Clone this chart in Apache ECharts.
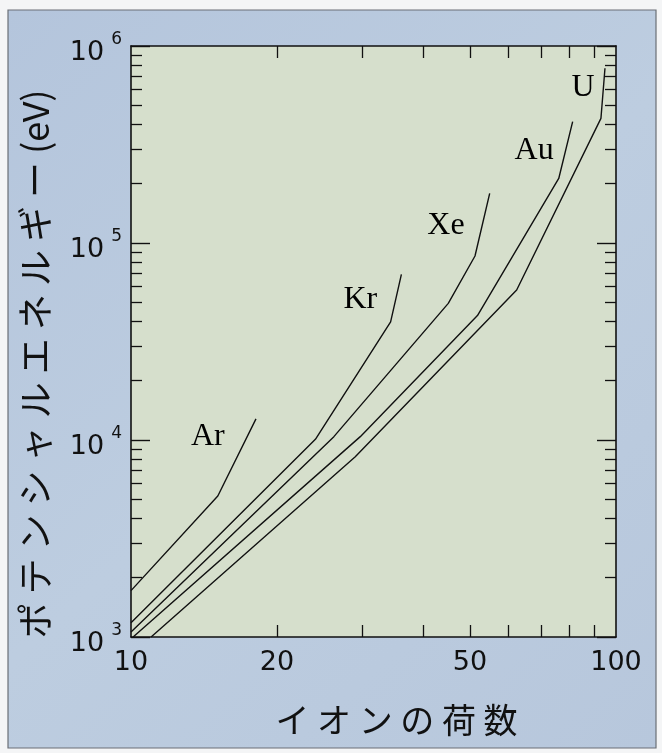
<!DOCTYPE html>
<html><head><meta charset="utf-8">
<script src="https://cdn.jsdelivr.net/npm/echarts@6/dist/echarts.min.js"></script>
<style>html,body{margin:0;padding:0;background:#f4f5f6}#c{width:662px;height:753px}</style>
</head><body><div id="c"></div>
<script>
// ---- data (charge number, potential energy in eV) ----
const elements = ['Ar', 'Kr', 'Xe', 'Au', 'U'];
const arData = [[10, 1720], [15.1, 5200], [18.1, 12800]];
const krData = [[10, 1180], [24.0, 10080], [34.3, 39800], [36.1, 69300]];
const xeData = [[10, 1060], [26.2, 10400], [45.1, 49400], [51.2, 85900], [54.9, 178600]];
const auData = [[10.1, 1000], [29.7, 10400], [51.8, 42800], [76.2, 212600], [81.4, 413000]];
const uData = [[11.0, 1000], [29.0, 8220], [62.4, 57700], [93.1, 429000], [94.9, 771000]];
const labelPos = [[14.4, 10400], [29.7, 51400], [44.6, 122000], [67.8, 293000], [85.5, 612000]];

// ---- ticks ----
const xLabelValues = [10, 20, 50, 100];
const xTickValues = [20, 30, 40, 50, 60, 70, 80, 90];
const yMajorValues = [1000, 10000, 100000, 1000000];
const yMinorValues = [2000, 3000, 4000, 5000, 6000, 7000, 8000, 9000,
  20000, 30000, 40000, 50000, 60000, 70000, 80000, 90000,
  200000, 300000, 400000, 500000, 600000, 700000, 800000, 900000];

const xTitle = 'イ オ ン の 荷 数';
const yTitle = 'ポ テ ン シ ャ ル エ ネ ル ギ ー (eV)';

const seriesData = [arData, krData, xeData, auData, uData];

const ink = '#111111';
const numFont = 'DejaVu Sans';
const jpFont = 'Noto Sans CJK JP';

function expLabel(v) {
  const e = Math.round(Math.log10(v));
  return '{b|10}{s|' + e + '}';
}

const baseX = {
  type: 'log', logBase: 10, min: 10, max: 100, gridIndex: 0,
  splitLine: { show: false }, minorTick: { show: false }
};
const baseY = {
  type: 'log', logBase: 10, min: 1000, max: 1000000, gridIndex: 0,
  splitLine: { show: false }, minorTick: { show: false }
};

const option = {
  animation: false,
  grid: { left: 131, right: 46, top: 46, bottom: 116, show: true, backgroundColor: '#d6dfcc', borderWidth: 0 },
  graphic: [
    { type: 'rect', z: -100, shape: { x: 8, y: 10, width: 648, height: 738 },
      style: { fill: new echarts.graphic.LinearGradient(0, 0, 1, 1, [
        { offset: 0, color: '#b4c5dc' }, { offset: 0.5, color: '#bdcde0' }, { offset: 1, color: '#b7c7dc' }]),
        stroke: '#6a6f76', lineWidth: 1.2 } },
    { type: 'text', x: 35, y: 364, rotation: Math.PI / 2,
      style: { text: yTitle, font: '36px "' + jpFont + '"', fill: ink, align: 'center', verticalAlign: 'middle' } }
  ],
  xAxis: [
    Object.assign({}, baseX, {
      position: 'bottom',
      axisLine: { show: true, lineStyle: { color: ink, width: 1.6 } },
      axisTick: { show: true, inside: true, length: 12, customValues: xTickValues, lineStyle: { color: ink, width: 1.3 } },
      axisLabel: { show: true, customValues: xLabelValues, margin: 12, fontSize: 27, fontFamily: numFont, color: ink,
        formatter: function (v) { return String(Math.round(v)); } },
      name: xTitle, nameLocation: 'middle', nameGap: 66,
      nameTextStyle: { fontSize: 34, fontFamily: jpFont, color: ink, padding: [0, 0, 0, 46] }
    }),
    Object.assign({}, baseX, {
      position: 'top',
      axisLine: { show: true, lineStyle: { color: ink, width: 1.6 } },
      axisTick: { show: true, inside: true, length: 12, customValues: xTickValues, lineStyle: { color: ink, width: 1.3 } },
      axisLabel: { show: false }
    })
  ],
  yAxis: [
    Object.assign({}, baseY, {
      position: 'left',
      axisLine: { show: true, lineStyle: { color: ink, width: 1.6 } },
      axisTick: { show: true, inside: true, length: 19, customValues: yMajorValues, lineStyle: { color: ink, width: 1.4 } },
      axisLabel: { show: true, customValues: yMajorValues, margin: 9, color: ink, formatter: expLabel, padding: [6, 0, 0, 0],
        rich: {
          b: { fontSize: 27, fontFamily: numFont, color: ink, lineHeight: 30, verticalAlign: 'bottom' },
          s: { fontSize: 17, fontFamily: numFont, color: ink, padding: [0, 0, 18, 7], verticalAlign: 'bottom' }
        } }
    }),
    Object.assign({}, baseY, {
      position: 'left',
      axisLine: { show: false },
      axisTick: { show: true, inside: true, length: 11, customValues: yMinorValues, lineStyle: { color: ink, width: 1.3 } },
      axisLabel: { show: false }
    }),
    Object.assign({}, baseY, {
      position: 'right',
      axisLine: { show: true, lineStyle: { color: ink, width: 1.6 } },
      axisTick: { show: true, inside: true, length: 19, customValues: yMajorValues, lineStyle: { color: ink, width: 1.4 } },
      axisLabel: { show: false }
    }),
    Object.assign({}, baseY, {
      position: 'right',
      axisLine: { show: false },
      axisTick: { show: true, inside: true, length: 11, customValues: yMinorValues, lineStyle: { color: ink, width: 1.3 } },
      axisLabel: { show: false }
    })
  ],
  series: seriesData.map(function (d, i) {
    return { type: 'line', name: elements[i], data: d, xAxisIndex: 0, yAxisIndex: 0,
      symbol: 'none', lineStyle: { color: ink, width: 1.4 }, silent: true };
  }).concat([{
    type: 'scatter', xAxisIndex: 0, yAxisIndex: 0, symbolSize: 0, silent: true,
    itemStyle: { opacity: 1 },
    data: labelPos.map(function (p, i) { return { name: elements[i], value: p }; }),
    label: { show: true, position: 'inside', formatter: '{b}', fontFamily: 'Liberation Serif', fontSize: 32,
      color: '#000', opacity: 1, textBorderWidth: 0 }
  }])
};

const chart = echarts.init(document.getElementById('c'), null, { renderer: 'canvas' });
chart.setOption(option);
</script>
</body></html>
